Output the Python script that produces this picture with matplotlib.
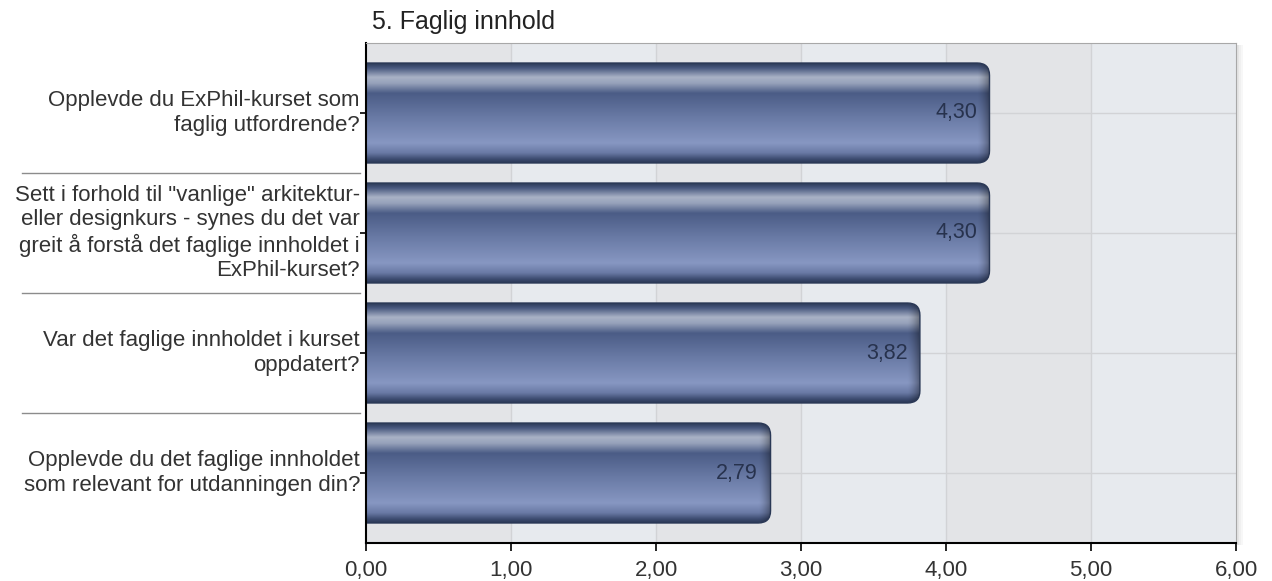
import numpy as np
import matplotlib
matplotlib.use("Agg")
import matplotlib.pyplot as plt
from matplotlib.patches import FancyBboxPatch, Rectangle
from matplotlib.colors import to_rgb
import matplotlib.transforms as mtransforms

plt.rcParams['font.family'] = ['Liberation Sans', 'DejaVu Sans']

# ---------------- data ----------------
title = "5. Faglig innhold"
questions = [
    "Opplevde du ExPhil-kurset som\nfaglig utfordrende?",
    "Sett i forhold til \"vanlige\" arkitektur-\neller designkurs - synes du det var\ngreit å forstå det faglige innholdet i\nExPhil-kurset?",
    "Var det faglige innholdet i kurset\noppdatert?",
    "Opplevde du det faglige innholdet\nsom relevant for utdanningen din?",
]
scores = [4.30, 4.30, 3.82, 2.79]
xticks = [0, 1, 2, 3, 4, 5, 6]
xlabels = ["0,00", "1,00", "2,00", "3,00", "4,00", "5,00", "6,00"]

# ---------------- figure ----------------
W, H = 1272, 581
fig = plt.figure(figsize=(W / 100, H / 100), dpi=100)
ax = fig.add_axes([366 / W, 1 - 543 / H, 870 / W, 500 / H])

ax.set_xlim(0, 6)
ax.set_ylim(3.5833, -0.5833)

# striped columns
for i in range(6):
    c = '#e3e4e7' if i % 2 == 0 else '#e7eaee'
    ax.axvspan(i, i + 1, color=c, zorder=0, lw=0)
for x in xticks[1:-1]:
    ax.axvline(x, color='#d2d3d6', lw=1, zorder=1)
for y in range(len(scores)):
    ax.axhline(y, color='#d2d3d6', lw=1, zorder=1)

# vertical profile for the glossy bars (top -> bottom)
stops = [(0.00, '#2c3a58'), (0.05, '#4a5a80'), (0.14, '#a9b2c6'), (0.20, '#97a2bb'),
         (0.30, '#4b5c86'), (0.55, '#6a7ba6'), (0.80, '#8797c2'), (0.90, '#6a7aa5'),
         (0.96, '#3e4d72'), (1.00, '#2a3856')]
pos = np.array([s[0] for s in stops])
cols = np.array([to_rgb(s[1]) for s in stops])
ny = 200
t = np.linspace(0, 1, ny)
prof = np.stack([np.interp(t, pos, cols[:, k]) for k in range(3)], axis=1)

bh = 0.833
rx = 0.085
px_per_x = 145.0
for i, v in enumerate(scores):
    y0 = i - bh / 2
    patch = FancyBboxPatch((-0.3, y0), v + 0.3, bh,
                           boxstyle="round,pad=0,rounding_size=%f" % rx,
                           mutation_aspect=1.2, fc='none', ec='#2a3856', lw=1.0, zorder=3)
    ax.add_patch(patch)
    # horizontal darkening near the rounded right end
    nx = 400
    xs = np.linspace(-0.3, v, nx)
    dist = (v - xs) * px_per_x
    shade = 1 - 0.35 * np.clip(1 - dist / 12.0, 0, 1) ** 1.5
    img = prof[:, None, :] * shade[None, :, None]
    im = ax.imshow(img, extent=[-0.3, v, y0 + bh, y0], aspect='auto',
                   interpolation='bilinear', zorder=2)
    im.set_clip_path(patch)
    ax.annotate(f"{v:.2f}".replace('.', ','), xy=(v, i), xytext=(-9, 0),
                textcoords='offset points', ha='right', va='center',
                fontsize=15.5, color='#27324d', zorder=4)

ax.set_xlim(0, 6)
ax.set_ylim(3.5833, -0.5833)

# axes styling
ax.set_xticks(xticks)
ax.set_xticklabels(xlabels, fontsize=16, color='#333333')
ax.set_yticks(range(len(scores)))
ax.set_yticklabels([])
ax.tick_params(axis='x', length=6, width=1.2, color='black', pad=6)
ax.tick_params(axis='y', length=4, width=1.2, color='black')
ax.spines['left'].set_color('black')
ax.spines['left'].set_linewidth(1.5)
ax.spines['bottom'].set_color('black')
ax.spines['bottom'].set_linewidth(1.5)
ax.spines['top'].set_color('#a8a8a8')
ax.spines['right'].set_color('#a8a8a8')
for s in ('left', 'bottom', 'top', 'right'):
    ax.spines[s].set_zorder(5)

# soft shadow on the right side of the frame
for k, a in enumerate([0.10, 0.06, 0.03]):
    fig.add_artist(Rectangle(((1237 + k * 2) / W, 1 - 545 / H), 2 / W, 500 / H,
                             transform=fig.transFigure, color='black', alpha=a, lw=0))

# category labels and separators
trans = mtransforms.blended_transform_factory(fig.transFigure, ax.transData)
for i, q in enumerate(questions):
    ax.text(360 / W, i, q, transform=trans, ha='right', va='center',
            fontsize=16, color='#333333', linespacing=1.2)
for yb in [0.5, 1.5, 2.5]:
    ax.plot([22 / W, 360 / W], [yb, yb], transform=trans, color='#8c8c8c',
            lw=1, clip_on=False)

fig.text(372 / W, 1 - 22 / H, title, ha='left', va='center', fontsize=18, color='#222222')

fig.savefig("out.png", dpi=100)
